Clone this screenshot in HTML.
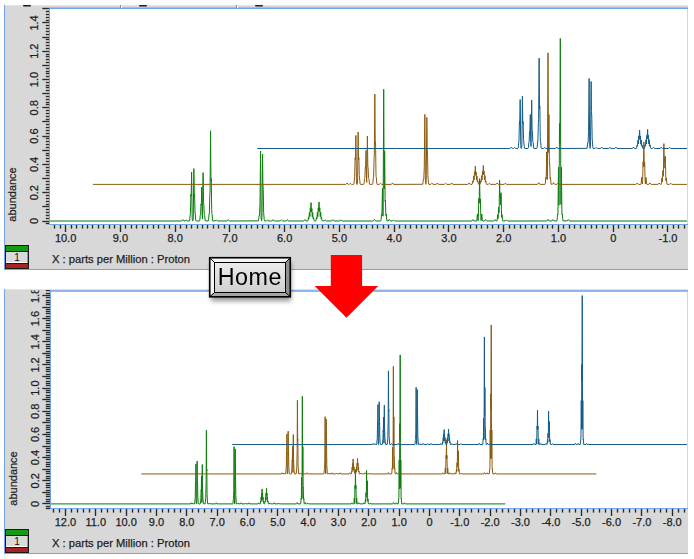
<!DOCTYPE html>
<html><head><meta charset="utf-8"><style>
html,body{margin:0;padding:0;background:#fff;width:694px;height:559px;overflow:hidden;position:relative}
</style></head><body>
<svg width="694" height="559" viewBox="0 0 694 559" style="position:absolute;left:0;top:0">
<defs><filter id="soft" x="-1%" y="-1%" width="102%" height="102%"><feGaussianBlur stdDeviation="0.3 0.15"/></filter></defs>
<clipPath id="ctp"><rect x="4" y="5" width="684" height="265"/></clipPath>
<g clip-path="url(#ctp)">
<rect x="4" y="5" width="684" height="265" fill="#d8d8d8"/>
<rect x="49" y="8" width="639" height="217" fill="#ffffff"/>
<g stroke="#2a2a2a" stroke-width="1.35">
<line x1="45.8" y1="223.5" x2="49" y2="223.5"/>
<line x1="42.3" y1="221.5" x2="49" y2="221.5"/>
<line x1="45.8" y1="218.5" x2="49" y2="218.5"/>
<line x1="45.8" y1="215.5" x2="49" y2="215.5"/>
<line x1="45.8" y1="212.5" x2="49" y2="212.5"/>
<line x1="45.8" y1="209.5" x2="49" y2="209.5"/>
<line x1="42.3" y1="206.5" x2="49" y2="206.5"/>
<line x1="45.8" y1="204.5" x2="49" y2="204.5"/>
<line x1="45.8" y1="201.5" x2="49" y2="201.5"/>
<line x1="45.8" y1="198.5" x2="49" y2="198.5"/>
<line x1="45.8" y1="195.5" x2="49" y2="195.5"/>
<line x1="42.3" y1="192.5" x2="49" y2="192.5"/>
<line x1="45.8" y1="189.5" x2="49" y2="189.5"/>
<line x1="45.8" y1="187.5" x2="49" y2="187.5"/>
<line x1="45.8" y1="184.5" x2="49" y2="184.5"/>
<line x1="45.8" y1="181.5" x2="49" y2="181.5"/>
<line x1="42.3" y1="178.5" x2="49" y2="178.5"/>
<line x1="45.8" y1="175.5" x2="49" y2="175.5"/>
<line x1="45.8" y1="172.5" x2="49" y2="172.5"/>
<line x1="45.8" y1="170.5" x2="49" y2="170.5"/>
<line x1="45.8" y1="167.5" x2="49" y2="167.5"/>
<line x1="42.3" y1="164.5" x2="49" y2="164.5"/>
<line x1="45.8" y1="161.5" x2="49" y2="161.5"/>
<line x1="45.8" y1="158.5" x2="49" y2="158.5"/>
<line x1="45.8" y1="155.5" x2="49" y2="155.5"/>
<line x1="45.8" y1="153.5" x2="49" y2="153.5"/>
<line x1="42.3" y1="150.5" x2="49" y2="150.5"/>
<line x1="45.8" y1="147.5" x2="49" y2="147.5"/>
<line x1="45.8" y1="144.5" x2="49" y2="144.5"/>
<line x1="45.8" y1="141.5" x2="49" y2="141.5"/>
<line x1="45.8" y1="138.5" x2="49" y2="138.5"/>
<line x1="42.3" y1="136.5" x2="49" y2="136.5"/>
<line x1="45.8" y1="133.5" x2="49" y2="133.5"/>
<line x1="45.8" y1="130.5" x2="49" y2="130.5"/>
<line x1="45.8" y1="127.5" x2="49" y2="127.5"/>
<line x1="45.8" y1="124.5" x2="49" y2="124.5"/>
<line x1="42.3" y1="121.5" x2="49" y2="121.5"/>
<line x1="45.8" y1="119.5" x2="49" y2="119.5"/>
<line x1="45.8" y1="116.5" x2="49" y2="116.5"/>
<line x1="45.8" y1="113.5" x2="49" y2="113.5"/>
<line x1="45.8" y1="110.5" x2="49" y2="110.5"/>
<line x1="42.3" y1="107.5" x2="49" y2="107.5"/>
<line x1="45.8" y1="104.5" x2="49" y2="104.5"/>
<line x1="45.8" y1="102.5" x2="49" y2="102.5"/>
<line x1="45.8" y1="99.5" x2="49" y2="99.5"/>
<line x1="45.8" y1="96.5" x2="49" y2="96.5"/>
<line x1="42.3" y1="93.5" x2="49" y2="93.5"/>
<line x1="45.8" y1="90.5" x2="49" y2="90.5"/>
<line x1="45.8" y1="87.5" x2="49" y2="87.5"/>
<line x1="45.8" y1="85.5" x2="49" y2="85.5"/>
<line x1="45.8" y1="82.5" x2="49" y2="82.5"/>
<line x1="42.3" y1="79.5" x2="49" y2="79.5"/>
<line x1="45.8" y1="76.5" x2="49" y2="76.5"/>
<line x1="45.8" y1="73.5" x2="49" y2="73.5"/>
<line x1="45.8" y1="71.5" x2="49" y2="71.5"/>
<line x1="45.8" y1="68.5" x2="49" y2="68.5"/>
<line x1="42.3" y1="65.5" x2="49" y2="65.5"/>
<line x1="45.8" y1="62.5" x2="49" y2="62.5"/>
<line x1="45.8" y1="59.5" x2="49" y2="59.5"/>
<line x1="45.8" y1="56.5" x2="49" y2="56.5"/>
<line x1="45.8" y1="54.5" x2="49" y2="54.5"/>
<line x1="42.3" y1="51.5" x2="49" y2="51.5"/>
<line x1="45.8" y1="48.5" x2="49" y2="48.5"/>
<line x1="45.8" y1="45.5" x2="49" y2="45.5"/>
<line x1="45.8" y1="42.5" x2="49" y2="42.5"/>
<line x1="45.8" y1="39.5" x2="49" y2="39.5"/>
<line x1="42.3" y1="37.5" x2="49" y2="37.5"/>
<line x1="45.8" y1="34.5" x2="49" y2="34.5"/>
<line x1="45.8" y1="31.5" x2="49" y2="31.5"/>
<line x1="45.8" y1="28.5" x2="49" y2="28.5"/>
<line x1="45.8" y1="25.5" x2="49" y2="25.5"/>
<line x1="42.3" y1="22.5" x2="49" y2="22.5"/>
<line x1="45.8" y1="20.5" x2="49" y2="20.5"/>
<line x1="45.8" y1="17.5" x2="49" y2="17.5"/>
<line x1="45.8" y1="14.5" x2="49" y2="14.5"/>
<line x1="45.8" y1="11.5" x2="49" y2="11.5"/>
<line x1="42.3" y1="8.5" x2="49" y2="8.5"/>
<line x1="684.50" y1="225" x2="684.50" y2="228.6"/>
<line x1="678.50" y1="225" x2="678.50" y2="228.6"/>
<line x1="673.50" y1="225" x2="673.50" y2="228.6"/>
<line x1="667.50" y1="225" x2="667.50" y2="232.0"/>
<line x1="662.50" y1="225" x2="662.50" y2="228.6"/>
<line x1="657.50" y1="225" x2="657.50" y2="228.6"/>
<line x1="651.50" y1="225" x2="651.50" y2="228.6"/>
<line x1="646.50" y1="225" x2="646.50" y2="228.6"/>
<line x1="640.50" y1="225" x2="640.50" y2="228.6"/>
<line x1="635.50" y1="225" x2="635.50" y2="228.6"/>
<line x1="629.50" y1="225" x2="629.50" y2="228.6"/>
<line x1="624.50" y1="225" x2="624.50" y2="228.6"/>
<line x1="618.50" y1="225" x2="618.50" y2="228.6"/>
<line x1="613.50" y1="225" x2="613.50" y2="232.0"/>
<line x1="607.50" y1="225" x2="607.50" y2="228.6"/>
<line x1="602.50" y1="225" x2="602.50" y2="228.6"/>
<line x1="596.50" y1="225" x2="596.50" y2="228.6"/>
<line x1="591.50" y1="225" x2="591.50" y2="228.6"/>
<line x1="585.50" y1="225" x2="585.50" y2="228.6"/>
<line x1="580.50" y1="225" x2="580.50" y2="228.6"/>
<line x1="574.50" y1="225" x2="574.50" y2="228.6"/>
<line x1="569.50" y1="225" x2="569.50" y2="228.6"/>
<line x1="563.50" y1="225" x2="563.50" y2="228.6"/>
<line x1="558.50" y1="225" x2="558.50" y2="232.0"/>
<line x1="552.50" y1="225" x2="552.50" y2="228.6"/>
<line x1="547.50" y1="225" x2="547.50" y2="228.6"/>
<line x1="542.50" y1="225" x2="542.50" y2="228.6"/>
<line x1="536.50" y1="225" x2="536.50" y2="228.6"/>
<line x1="531.50" y1="225" x2="531.50" y2="228.6"/>
<line x1="525.50" y1="225" x2="525.50" y2="228.6"/>
<line x1="520.50" y1="225" x2="520.50" y2="228.6"/>
<line x1="514.50" y1="225" x2="514.50" y2="228.6"/>
<line x1="509.50" y1="225" x2="509.50" y2="228.6"/>
<line x1="503.50" y1="225" x2="503.50" y2="232.0"/>
<line x1="498.50" y1="225" x2="498.50" y2="228.6"/>
<line x1="492.50" y1="225" x2="492.50" y2="228.6"/>
<line x1="487.50" y1="225" x2="487.50" y2="228.6"/>
<line x1="481.50" y1="225" x2="481.50" y2="228.6"/>
<line x1="476.50" y1="225" x2="476.50" y2="228.6"/>
<line x1="470.50" y1="225" x2="470.50" y2="228.6"/>
<line x1="465.50" y1="225" x2="465.50" y2="228.6"/>
<line x1="459.50" y1="225" x2="459.50" y2="228.6"/>
<line x1="454.50" y1="225" x2="454.50" y2="228.6"/>
<line x1="448.50" y1="225" x2="448.50" y2="232.0"/>
<line x1="443.50" y1="225" x2="443.50" y2="228.6"/>
<line x1="437.50" y1="225" x2="437.50" y2="228.6"/>
<line x1="432.50" y1="225" x2="432.50" y2="228.6"/>
<line x1="427.50" y1="225" x2="427.50" y2="228.6"/>
<line x1="421.50" y1="225" x2="421.50" y2="228.6"/>
<line x1="416.50" y1="225" x2="416.50" y2="228.6"/>
<line x1="410.50" y1="225" x2="410.50" y2="228.6"/>
<line x1="405.50" y1="225" x2="405.50" y2="228.6"/>
<line x1="399.50" y1="225" x2="399.50" y2="228.6"/>
<line x1="394.50" y1="225" x2="394.50" y2="232.0"/>
<line x1="388.50" y1="225" x2="388.50" y2="228.6"/>
<line x1="383.50" y1="225" x2="383.50" y2="228.6"/>
<line x1="377.50" y1="225" x2="377.50" y2="228.6"/>
<line x1="372.50" y1="225" x2="372.50" y2="228.6"/>
<line x1="366.50" y1="225" x2="366.50" y2="228.6"/>
<line x1="361.50" y1="225" x2="361.50" y2="228.6"/>
<line x1="355.50" y1="225" x2="355.50" y2="228.6"/>
<line x1="350.50" y1="225" x2="350.50" y2="228.6"/>
<line x1="344.50" y1="225" x2="344.50" y2="228.6"/>
<line x1="339.50" y1="225" x2="339.50" y2="232.0"/>
<line x1="333.50" y1="225" x2="333.50" y2="228.6"/>
<line x1="328.50" y1="225" x2="328.50" y2="228.6"/>
<line x1="322.50" y1="225" x2="322.50" y2="228.6"/>
<line x1="317.50" y1="225" x2="317.50" y2="228.6"/>
<line x1="312.50" y1="225" x2="312.50" y2="228.6"/>
<line x1="306.50" y1="225" x2="306.50" y2="228.6"/>
<line x1="301.50" y1="225" x2="301.50" y2="228.6"/>
<line x1="295.50" y1="225" x2="295.50" y2="228.6"/>
<line x1="290.50" y1="225" x2="290.50" y2="228.6"/>
<line x1="284.50" y1="225" x2="284.50" y2="232.0"/>
<line x1="279.50" y1="225" x2="279.50" y2="228.6"/>
<line x1="273.50" y1="225" x2="273.50" y2="228.6"/>
<line x1="268.50" y1="225" x2="268.50" y2="228.6"/>
<line x1="262.50" y1="225" x2="262.50" y2="228.6"/>
<line x1="257.50" y1="225" x2="257.50" y2="228.6"/>
<line x1="251.50" y1="225" x2="251.50" y2="228.6"/>
<line x1="246.50" y1="225" x2="246.50" y2="228.6"/>
<line x1="240.50" y1="225" x2="240.50" y2="228.6"/>
<line x1="235.50" y1="225" x2="235.50" y2="228.6"/>
<line x1="229.50" y1="225" x2="229.50" y2="232.0"/>
<line x1="224.50" y1="225" x2="224.50" y2="228.6"/>
<line x1="218.50" y1="225" x2="218.50" y2="228.6"/>
<line x1="213.50" y1="225" x2="213.50" y2="228.6"/>
<line x1="207.50" y1="225" x2="207.50" y2="228.6"/>
<line x1="202.50" y1="225" x2="202.50" y2="228.6"/>
<line x1="197.50" y1="225" x2="197.50" y2="228.6"/>
<line x1="191.50" y1="225" x2="191.50" y2="228.6"/>
<line x1="186.50" y1="225" x2="186.50" y2="228.6"/>
<line x1="180.50" y1="225" x2="180.50" y2="228.6"/>
<line x1="175.50" y1="225" x2="175.50" y2="232.0"/>
<line x1="169.50" y1="225" x2="169.50" y2="228.6"/>
<line x1="164.50" y1="225" x2="164.50" y2="228.6"/>
<line x1="158.50" y1="225" x2="158.50" y2="228.6"/>
<line x1="153.50" y1="225" x2="153.50" y2="228.6"/>
<line x1="147.50" y1="225" x2="147.50" y2="228.6"/>
<line x1="142.50" y1="225" x2="142.50" y2="228.6"/>
<line x1="136.50" y1="225" x2="136.50" y2="228.6"/>
<line x1="131.50" y1="225" x2="131.50" y2="228.6"/>
<line x1="125.50" y1="225" x2="125.50" y2="228.6"/>
<line x1="120.50" y1="225" x2="120.50" y2="232.0"/>
<line x1="114.50" y1="225" x2="114.50" y2="228.6"/>
<line x1="109.50" y1="225" x2="109.50" y2="228.6"/>
<line x1="103.50" y1="225" x2="103.50" y2="228.6"/>
<line x1="98.50" y1="225" x2="98.50" y2="228.6"/>
<line x1="92.50" y1="225" x2="92.50" y2="228.6"/>
<line x1="87.50" y1="225" x2="87.50" y2="228.6"/>
<line x1="82.50" y1="225" x2="82.50" y2="228.6"/>
<line x1="76.50" y1="225" x2="76.50" y2="228.6"/>
<line x1="71.50" y1="225" x2="71.50" y2="228.6"/>
<line x1="65.50" y1="225" x2="65.50" y2="232.0"/>
<line x1="60.50" y1="225" x2="60.50" y2="228.6"/>
<line x1="54.50" y1="225" x2="54.50" y2="228.6"/>
</g>
<clipPath id="ctl"><rect x="4" y="7.5" width="46" height="226"/></clipPath>
<g font-family='"Liberation Sans", sans-serif' font-size="11" fill="#1e1e1e" stroke="#1e1e1e" stroke-width="0.25" text-anchor="middle">
<g clip-path="url(#ctl)">
<text x="38.2" y="221.00" transform="rotate(-90 38.2 221.00)">0</text>
<text x="38.2" y="192.70" transform="rotate(-90 38.2 192.70)">0.2</text>
<text x="38.2" y="164.40" transform="rotate(-90 38.2 164.40)">0.4</text>
<text x="38.2" y="136.10" transform="rotate(-90 38.2 136.10)">0.6</text>
<text x="38.2" y="107.80" transform="rotate(-90 38.2 107.80)">0.8</text>
<text x="38.2" y="79.50" transform="rotate(-90 38.2 79.50)">1.0</text>
<text x="38.2" y="51.20" transform="rotate(-90 38.2 51.20)">1.2</text>
<text x="38.2" y="22.90" transform="rotate(-90 38.2 22.90)">1.4</text>
</g>
<text x="667.96" y="241.6">-1.0</text>
<text x="613.20" y="241.6">0</text>
<text x="558.44" y="241.6">1.0</text>
<text x="503.68" y="241.6">2.0</text>
<text x="448.92" y="241.6">3.0</text>
<text x="394.16" y="241.6">4.0</text>
<text x="339.40" y="241.6">5.0</text>
<text x="284.64" y="241.6">6.0</text>
<text x="229.88" y="241.6">7.0</text>
<text x="175.12" y="241.6">8.0</text>
<text x="120.36" y="241.6">9.0</text>
<text x="65.60" y="241.6">10.0</text>
</g>
<clipPath id="ct"><rect x="50" y="9" width="637" height="215"/></clipPath>
<g clip-path="url(#ct)"><g filter="url(#soft)" fill="none" stroke-width="1" stroke-linejoin="round">
<path stroke="#0a7d0a" d="M49.50 221.00 L181.15 221.00 L181.90 220.82 L182.80 219.59 L183.55 220.69 L184.00 220.97 L185.10 220.90 L186.05 219.87 L187.15 220.95 L189.35 220.98 L189.70 219.99 L190.45 212.10 L190.85 194.70 L190.95 194.20 L191.20 196.38 L191.60 172.03 L192.15 216.88 L192.35 220.51 L192.50 220.94 L192.90 220.97 L193.20 219.36 L193.35 214.25 L193.85 168.64 L194.25 195.49 L194.35 196.39 L194.50 194.16 L194.60 194.71 L195.00 212.10 L195.85 220.57 L196.20 220.99 L199.40 220.99 L199.80 220.28 L200.25 214.94 L200.60 214.16 L201.00 204.17 L201.30 205.15 L201.75 187.02 L202.20 215.31 L202.45 219.06 L203.10 172.62 L203.55 202.67 L203.85 204.40 L204.25 214.35 L204.60 215.05 L205.20 220.85 L208.30 220.95 L208.60 219.90 L209.00 214.33 L209.10 213.89 L209.30 214.18 L209.35 213.79 L209.80 194.88 L210.05 192.01 L210.55 130.72 L210.95 178.70 L211.05 181.26 L211.20 178.47 L211.30 179.52 L211.70 209.79 L211.85 213.43 L212.10 214.40 L212.50 219.92 L212.80 220.95 L215.10 220.95 L216.20 219.87 L217.00 220.80 L217.45 220.98 L226.90 220.99 L227.40 220.77 L228.25 219.59 L229.10 220.80 L229.70 220.99 L258.50 220.87 L259.15 215.42 L259.40 215.68 L259.50 215.19 L260.00 204.07 L260.55 150.98 L261.05 212.42 L261.20 218.95 L261.50 220.95 L261.80 220.04 L262.00 213.66 L262.55 154.00 L262.90 183.99 L263.25 189.46 L263.65 212.43 L264.20 219.45 L264.60 220.96 L266.60 220.94 L267.65 219.87 L268.80 220.96 L271.90 220.97 L272.35 220.72 L273.15 219.59 L273.95 220.74 L274.45 220.98 L280.15 220.97 L281.35 219.87 L282.50 220.96 L285.95 220.99 L286.55 220.76 L287.40 219.59 L288.20 220.76 L288.75 220.99 L303.40 221.00 L304.05 220.79 L304.90 219.59 L305.95 220.92 L307.75 220.97 L308.05 220.41 L308.50 217.47 L308.85 218.84 L308.95 218.56 L309.40 212.51 L309.85 216.51 L310.25 208.32 L310.65 211.83 L311.05 202.64 L311.40 211.60 L311.50 211.98 L311.85 208.56 L312.25 216.73 L312.70 212.55 L313.15 218.73 L313.55 217.46 L314.15 220.81 L314.45 221.00 L315.75 220.97 L316.05 220.36 L316.50 217.33 L316.90 218.70 L317.35 212.28 L317.80 216.61 L318.25 207.81 L318.65 211.42 L319.05 201.96 L319.40 211.31 L319.80 207.78 L320.25 216.58 L320.70 212.24 L321.15 218.67 L321.60 217.41 L322.00 220.32 L322.35 220.98 L324.15 220.92 L325.15 219.87 L326.35 220.97 L331.55 220.98 L332.00 220.76 L332.85 219.59 L333.65 220.76 L334.30 220.99 L339.85 220.97 L341.05 219.87 L341.90 220.83 L342.50 221.00 L372.90 221.00 L373.60 220.74 L374.45 219.30 L375.25 220.68 L375.65 220.96 L380.75 220.97 L381.10 219.82 L381.50 214.20 L381.60 213.96 L381.85 215.57 L381.95 214.47 L382.45 188.48 L382.90 214.58 L383.00 216.20 L383.10 213.35 L383.70 89.41 L384.20 189.06 L384.65 151.13 L385.10 199.88 L385.20 201.59 L385.35 200.29 L385.45 201.02 L385.85 214.99 L385.95 215.52 L386.25 214.00 L386.70 219.95 L387.00 220.95 L388.25 220.86 L389.25 219.30 L390.10 220.76 L390.80 221.00 L392.60 220.92 L393.60 219.87 L394.50 220.85 L395.20 221.00 L471.45 221.00 L472.15 220.80 L473.00 219.59 L474.10 220.93 L476.45 221.00 L476.75 220.77 L476.90 220.06 L477.40 213.93 L478.05 220.62 L478.35 217.35 L478.80 198.50 L479.10 203.32 L479.20 201.88 L479.60 178.62 L480.00 202.73 L480.40 198.93 L480.80 216.72 L481.10 220.61 L481.75 213.96 L482.25 219.89 L482.60 220.97 L484.55 220.92 L485.60 219.59 L486.40 220.72 L486.90 220.98 L493.70 220.97 L494.15 220.70 L494.90 219.59 L495.85 220.85 L496.85 220.97 L497.20 219.86 L497.65 214.64 L498.10 218.49 L498.60 207.07 L498.95 212.88 L499.10 212.07 L499.60 180.21 L499.95 198.10 L500.30 194.22 L500.65 204.86 L501.05 192.70 L501.60 217.32 L502.05 214.64 L502.50 219.91 L502.80 220.95 L505.35 220.94 L506.40 219.87 L507.25 220.81 L507.90 221.00 L546.55 220.99 L547.20 220.72 L548.05 219.30 L548.85 220.70 L549.30 220.97 L551.90 220.93 L552.95 219.59 L554.05 220.93 L556.80 220.97 L557.15 219.86 L557.55 214.25 L557.65 213.93 L557.85 214.76 L557.95 213.51 L558.50 167.24 L558.90 203.58 L559.00 205.20 L559.05 202.71 L559.50 123.46 L559.80 143.36 L559.90 140.28 L560.30 38.45 L560.85 201.12 L560.90 204.42 L561.00 203.04 L561.40 167.23 L561.90 212.09 L562.00 214.53 L562.25 213.92 L562.35 214.32 L562.95 220.84 L567.10 220.97 L568.30 219.59 L569.20 220.83 L569.95 221.00 L687.00 221.00"/>
<path stroke="#8a5a12" d="M92.98 184.39 L345.33 184.39 L346.18 184.21 L347.08 182.98 L347.83 184.08 L348.28 184.36 L349.38 184.30 L350.33 183.26 L351.43 184.34 L353.58 184.38 L353.98 183.38 L354.68 176.35 L355.13 158.09 L355.23 157.59 L355.48 159.77 L355.88 135.42 L356.43 180.27 L356.63 183.90 L356.78 184.33 L357.13 184.38 L357.43 183.45 L357.63 177.65 L358.13 132.03 L358.53 158.88 L358.63 159.79 L358.78 157.55 L358.88 158.10 L359.28 175.49 L360.13 183.97 L360.48 184.39 L363.68 184.39 L364.08 183.67 L364.53 178.33 L364.88 177.55 L365.28 167.57 L365.58 168.54 L366.03 150.41 L366.48 178.70 L366.73 182.45 L367.38 136.01 L367.83 166.06 L368.13 167.79 L368.53 177.75 L368.88 178.44 L369.48 184.25 L372.53 184.37 L372.88 183.29 L373.33 177.39 L373.53 177.63 L373.63 177.18 L374.08 158.28 L374.33 155.40 L374.83 94.12 L375.23 142.09 L375.33 144.65 L375.48 141.87 L375.58 142.92 L375.98 173.18 L376.13 176.83 L376.38 177.80 L376.78 183.31 L377.08 184.34 L379.38 184.34 L380.48 183.26 L381.28 184.19 L381.73 184.38 L391.18 184.38 L391.68 184.17 L392.53 182.98 L393.38 184.19 L393.98 184.39 L422.78 184.27 L423.43 178.82 L423.68 179.07 L423.78 178.59 L424.28 167.47 L424.83 114.38 L425.33 175.82 L425.48 182.34 L425.78 184.34 L426.08 183.43 L426.28 177.05 L426.83 117.39 L427.18 147.38 L427.53 152.86 L427.93 175.82 L428.48 182.84 L428.88 184.36 L430.88 184.33 L431.93 183.26 L433.08 184.35 L436.18 184.37 L436.63 184.12 L437.43 182.98 L438.23 184.14 L438.73 184.38 L444.43 184.37 L445.63 183.26 L446.78 184.36 L450.23 184.39 L450.83 184.16 L451.68 182.98 L452.48 184.15 L453.03 184.38 L467.68 184.39 L468.33 184.18 L469.18 182.98 L470.23 184.31 L472.03 184.37 L472.33 183.80 L472.78 180.87 L473.13 182.24 L473.23 181.95 L473.68 175.91 L474.13 179.91 L474.53 171.72 L474.93 175.23 L475.33 166.03 L475.68 175.00 L475.78 175.38 L476.13 171.96 L476.53 180.12 L476.98 175.94 L477.43 182.13 L477.83 180.86 L478.43 184.21 L478.73 184.39 L480.03 184.36 L480.33 183.75 L480.78 180.73 L481.18 182.09 L481.63 175.68 L482.08 180.00 L482.53 171.21 L482.93 174.82 L483.33 165.35 L483.68 174.71 L484.08 171.18 L484.53 179.98 L484.98 175.64 L485.43 182.06 L485.88 180.81 L486.28 183.71 L486.63 184.38 L488.43 184.32 L489.43 183.26 L490.63 184.37 L495.83 184.37 L496.28 184.16 L497.13 182.98 L497.93 184.15 L498.58 184.39 L504.13 184.37 L505.33 183.26 L506.18 184.23 L506.78 184.39 L537.18 184.39 L537.88 184.13 L538.73 182.70 L539.53 184.08 L539.93 184.35 L544.98 184.38 L545.38 183.21 L545.78 177.60 L545.88 177.35 L546.13 178.97 L546.23 177.87 L546.73 151.87 L547.18 177.97 L547.28 179.60 L547.38 176.75 L547.98 52.80 L548.48 152.45 L548.93 114.53 L549.38 163.27 L549.48 164.98 L549.63 163.69 L549.73 164.41 L550.13 178.38 L550.23 178.91 L550.53 177.40 L550.93 182.87 L551.23 184.31 L552.53 184.26 L553.53 182.70 L554.38 184.16 L555.08 184.39 L556.88 184.32 L557.88 183.26 L558.78 184.25 L559.48 184.39 L635.73 184.39 L636.43 184.19 L637.28 182.98 L638.38 184.33 L640.73 184.39 L641.03 184.16 L641.18 183.45 L641.68 177.32 L642.33 184.02 L642.63 180.74 L643.08 161.89 L643.38 166.71 L643.48 165.27 L643.88 142.01 L644.28 166.13 L644.68 162.32 L645.08 180.11 L645.38 184.01 L646.03 177.36 L646.53 183.28 L646.88 184.37 L648.83 184.32 L649.88 182.98 L650.68 184.12 L651.18 184.38 L657.98 184.36 L658.43 184.09 L659.18 182.98 L660.13 184.25 L661.13 184.36 L661.48 183.25 L661.93 178.03 L662.38 181.88 L662.88 170.46 L663.23 176.27 L663.38 175.47 L663.88 143.60 L664.23 161.49 L664.58 157.61 L664.93 168.26 L665.33 156.09 L665.88 180.72 L666.33 178.04 L666.98 184.22 L667.28 184.39 L669.58 184.35 L670.68 183.26 L671.53 184.21 L672.03 184.38 L686.98 184.39"/>
<path stroke="#135a88" d="M257.26 148.50 L509.61 148.49 L510.46 148.31 L511.36 147.08 L512.11 148.19 L512.56 148.46 L513.66 148.40 L514.61 147.36 L515.71 148.44 L517.86 148.48 L518.26 147.49 L518.96 140.45 L519.41 122.20 L519.51 121.70 L519.76 123.87 L520.16 99.53 L520.71 144.37 L520.91 148.01 L521.06 148.43 L521.41 148.48 L521.71 147.55 L521.91 141.75 L522.41 96.13 L522.81 122.98 L522.91 123.89 L523.06 121.65 L523.16 122.20 L523.56 139.59 L524.41 148.07 L524.76 148.49 L527.96 148.49 L528.36 147.77 L528.81 142.43 L529.16 141.65 L529.56 131.67 L529.86 132.64 L530.31 114.52 L530.76 142.80 L531.01 146.55 L531.66 100.11 L532.11 130.16 L532.41 131.90 L532.81 141.85 L533.16 142.55 L533.76 148.35 L536.81 148.47 L537.16 147.39 L537.61 141.49 L537.81 141.73 L537.91 141.28 L538.36 122.38 L538.61 119.50 L539.11 58.22 L539.51 106.19 L539.61 108.75 L539.76 105.97 L539.86 107.02 L540.26 137.29 L540.41 140.93 L540.66 141.90 L541.06 147.42 L541.36 148.45 L543.66 148.44 L544.76 147.36 L545.56 148.29 L546.01 148.48 L555.46 148.48 L555.96 148.27 L556.81 147.08 L557.66 148.29 L558.26 148.49 L587.06 148.37 L587.71 142.92 L587.96 143.17 L588.06 142.69 L588.56 131.57 L589.11 78.48 L589.61 139.92 L589.76 146.45 L590.06 148.44 L590.36 147.53 L590.56 141.15 L591.11 81.50 L591.46 111.48 L591.81 116.96 L592.16 138.26 L592.71 146.43 L593.11 148.43 L595.16 148.44 L596.21 147.36 L597.36 148.46 L600.46 148.47 L600.91 148.22 L601.71 147.08 L602.51 148.24 L603.01 148.48 L608.71 148.47 L609.91 147.36 L611.06 148.46 L614.51 148.49 L615.11 148.26 L615.96 147.08 L616.76 148.25 L617.31 148.48 L631.96 148.49 L632.61 148.28 L633.46 147.08 L634.51 148.41 L636.31 148.47 L636.61 147.90 L637.06 144.97 L637.41 146.34 L637.51 146.05 L637.96 140.01 L638.41 144.01 L638.81 135.82 L639.21 139.33 L639.61 130.13 L639.96 139.10 L640.06 139.48 L640.41 136.06 L640.81 144.22 L641.26 140.05 L641.71 146.23 L642.11 144.96 L642.71 148.31 L643.01 148.49 L644.31 148.46 L644.61 147.86 L645.06 144.83 L645.46 146.20 L645.91 139.78 L646.36 144.10 L646.81 135.31 L647.21 138.92 L647.61 129.45 L647.96 138.81 L648.36 135.28 L648.81 144.08 L649.26 139.74 L649.71 146.16 L650.16 144.91 L650.56 147.81 L650.86 148.46 L652.71 148.42 L653.71 147.36 L654.91 148.47 L660.11 148.48 L660.56 148.26 L661.41 147.08 L662.21 148.25 L662.81 148.49 L668.41 148.47 L669.61 147.36 L670.41 148.29 L670.96 148.49 L686.96 148.50"/>
</g></g>
<line x1="49" y1="8.20" x2="688" y2="8.20" stroke="#72a4ec" stroke-width="1.35"/>
<line x1="49" y1="224.5" x2="688" y2="224.5" stroke="#72a4ec"/>
<line x1="49.5" y1="8" x2="49.5" y2="225" stroke="#72a4ec"/>
<line x1="687.5" y1="9" x2="687.5" y2="224" stroke="#c4d9fb"/>
<line x1="4.5" y1="5" x2="4.5" y2="270" stroke="#72a4ec"/>
<line x1="4" y1="269.5" x2="688" y2="269.5" stroke="#72a4ec"/>
<text x="16.3" y="221.7" transform="rotate(-90 16.3 221.7)" font-family='"Liberation Sans", sans-serif' font-size="11" fill="#1e1e1e" stroke="#1e1e1e" stroke-width="0.2">abundance</text>
<rect x="5" y="245" width="24" height="24" fill="#1a1a1a"/>
<rect x="6" y="246" width="22" height="5" fill="#159a15"/>
<rect x="6" y="252" width="22" height="11" fill="#dadada"/>
<rect x="6" y="262" width="22" height="1" fill="#ffffff"/>
<rect x="27" y="252" width="1" height="11" fill="#9a9a9a"/>
<rect x="6" y="264" width="22" height="4" fill="#a82222"/>
<text x="17" y="261.3" font-family='"Liberation Sans", sans-serif' font-size="10" fill="#111" text-anchor="middle">1</text>
<text x="52" y="263.3" font-family='"Liberation Sans", sans-serif' font-size="11.2" fill="#1e1e1e" stroke="#1e1e1e" stroke-width="0.25">X : parts per Million : Proton</text>
</g>
<clipPath id="cbp"><rect x="4" y="289" width="684" height="265"/></clipPath>
<g clip-path="url(#cbp)">
<rect x="4" y="289" width="684" height="265" fill="#d8d8d8"/>
<rect x="50" y="291" width="638" height="218" fill="#ffffff"/>
<g stroke="#2a2a2a" stroke-width="1.35">
<line x1="45.8" y1="508.5" x2="50" y2="508.5"/>
<line x1="45.8" y1="506.5" x2="50" y2="506.5"/>
<line x1="42.3" y1="503.5" x2="50" y2="503.5"/>
<line x1="45.8" y1="501.5" x2="50" y2="501.5"/>
<line x1="45.8" y1="499.5" x2="50" y2="499.5"/>
<line x1="45.8" y1="496.5" x2="50" y2="496.5"/>
<line x1="45.8" y1="494.5" x2="50" y2="494.5"/>
<line x1="42.3" y1="492.5" x2="50" y2="492.5"/>
<line x1="45.8" y1="490.5" x2="50" y2="490.5"/>
<line x1="45.8" y1="487.5" x2="50" y2="487.5"/>
<line x1="45.8" y1="485.5" x2="50" y2="485.5"/>
<line x1="45.8" y1="483.5" x2="50" y2="483.5"/>
<line x1="42.3" y1="480.5" x2="50" y2="480.5"/>
<line x1="45.8" y1="478.5" x2="50" y2="478.5"/>
<line x1="45.8" y1="476.5" x2="50" y2="476.5"/>
<line x1="45.8" y1="473.5" x2="50" y2="473.5"/>
<line x1="45.8" y1="471.5" x2="50" y2="471.5"/>
<line x1="42.3" y1="469.5" x2="50" y2="469.5"/>
<line x1="45.8" y1="466.5" x2="50" y2="466.5"/>
<line x1="45.8" y1="464.5" x2="50" y2="464.5"/>
<line x1="45.8" y1="462.5" x2="50" y2="462.5"/>
<line x1="45.8" y1="459.5" x2="50" y2="459.5"/>
<line x1="42.3" y1="457.5" x2="50" y2="457.5"/>
<line x1="45.8" y1="455.5" x2="50" y2="455.5"/>
<line x1="45.8" y1="452.5" x2="50" y2="452.5"/>
<line x1="45.8" y1="450.5" x2="50" y2="450.5"/>
<line x1="45.8" y1="448.5" x2="50" y2="448.5"/>
<line x1="42.3" y1="446.5" x2="50" y2="446.5"/>
<line x1="45.8" y1="443.5" x2="50" y2="443.5"/>
<line x1="45.8" y1="441.5" x2="50" y2="441.5"/>
<line x1="45.8" y1="439.5" x2="50" y2="439.5"/>
<line x1="45.8" y1="436.5" x2="50" y2="436.5"/>
<line x1="42.3" y1="434.5" x2="50" y2="434.5"/>
<line x1="45.8" y1="432.5" x2="50" y2="432.5"/>
<line x1="45.8" y1="429.5" x2="50" y2="429.5"/>
<line x1="45.8" y1="427.5" x2="50" y2="427.5"/>
<line x1="45.8" y1="425.5" x2="50" y2="425.5"/>
<line x1="42.3" y1="422.5" x2="50" y2="422.5"/>
<line x1="45.8" y1="420.5" x2="50" y2="420.5"/>
<line x1="45.8" y1="418.5" x2="50" y2="418.5"/>
<line x1="45.8" y1="415.5" x2="50" y2="415.5"/>
<line x1="45.8" y1="413.5" x2="50" y2="413.5"/>
<line x1="42.3" y1="411.5" x2="50" y2="411.5"/>
<line x1="45.8" y1="408.5" x2="50" y2="408.5"/>
<line x1="45.8" y1="406.5" x2="50" y2="406.5"/>
<line x1="45.8" y1="404.5" x2="50" y2="404.5"/>
<line x1="45.8" y1="401.5" x2="50" y2="401.5"/>
<line x1="42.3" y1="399.5" x2="50" y2="399.5"/>
<line x1="45.8" y1="397.5" x2="50" y2="397.5"/>
<line x1="45.8" y1="395.5" x2="50" y2="395.5"/>
<line x1="45.8" y1="392.5" x2="50" y2="392.5"/>
<line x1="45.8" y1="390.5" x2="50" y2="390.5"/>
<line x1="42.3" y1="388.5" x2="50" y2="388.5"/>
<line x1="45.8" y1="385.5" x2="50" y2="385.5"/>
<line x1="45.8" y1="383.5" x2="50" y2="383.5"/>
<line x1="45.8" y1="381.5" x2="50" y2="381.5"/>
<line x1="45.8" y1="378.5" x2="50" y2="378.5"/>
<line x1="42.3" y1="376.5" x2="50" y2="376.5"/>
<line x1="45.8" y1="374.5" x2="50" y2="374.5"/>
<line x1="45.8" y1="371.5" x2="50" y2="371.5"/>
<line x1="45.8" y1="369.5" x2="50" y2="369.5"/>
<line x1="45.8" y1="367.5" x2="50" y2="367.5"/>
<line x1="42.3" y1="364.5" x2="50" y2="364.5"/>
<line x1="45.8" y1="362.5" x2="50" y2="362.5"/>
<line x1="45.8" y1="360.5" x2="50" y2="360.5"/>
<line x1="45.8" y1="357.5" x2="50" y2="357.5"/>
<line x1="45.8" y1="355.5" x2="50" y2="355.5"/>
<line x1="42.3" y1="353.5" x2="50" y2="353.5"/>
<line x1="45.8" y1="351.5" x2="50" y2="351.5"/>
<line x1="45.8" y1="348.5" x2="50" y2="348.5"/>
<line x1="45.8" y1="346.5" x2="50" y2="346.5"/>
<line x1="45.8" y1="344.5" x2="50" y2="344.5"/>
<line x1="42.3" y1="341.5" x2="50" y2="341.5"/>
<line x1="45.8" y1="339.5" x2="50" y2="339.5"/>
<line x1="45.8" y1="337.5" x2="50" y2="337.5"/>
<line x1="45.8" y1="334.5" x2="50" y2="334.5"/>
<line x1="45.8" y1="332.5" x2="50" y2="332.5"/>
<line x1="42.3" y1="330.5" x2="50" y2="330.5"/>
<line x1="45.8" y1="327.5" x2="50" y2="327.5"/>
<line x1="45.8" y1="325.5" x2="50" y2="325.5"/>
<line x1="45.8" y1="323.5" x2="50" y2="323.5"/>
<line x1="45.8" y1="320.5" x2="50" y2="320.5"/>
<line x1="42.3" y1="318.5" x2="50" y2="318.5"/>
<line x1="45.8" y1="316.5" x2="50" y2="316.5"/>
<line x1="45.8" y1="313.5" x2="50" y2="313.5"/>
<line x1="45.8" y1="311.5" x2="50" y2="311.5"/>
<line x1="45.8" y1="309.5" x2="50" y2="309.5"/>
<line x1="42.3" y1="307.5" x2="50" y2="307.5"/>
<line x1="45.8" y1="304.5" x2="50" y2="304.5"/>
<line x1="45.8" y1="302.5" x2="50" y2="302.5"/>
<line x1="45.8" y1="300.5" x2="50" y2="300.5"/>
<line x1="45.8" y1="297.5" x2="50" y2="297.5"/>
<line x1="42.3" y1="295.5" x2="50" y2="295.5"/>
<line x1="45.8" y1="293.5" x2="50" y2="293.5"/>
<line x1="45.8" y1="290.5" x2="50" y2="290.5"/>
<line x1="684.50" y1="509" x2="684.50" y2="512.6"/>
<line x1="678.50" y1="509" x2="678.50" y2="512.6"/>
<line x1="672.50" y1="509" x2="672.50" y2="516.0"/>
<line x1="666.50" y1="509" x2="666.50" y2="512.6"/>
<line x1="660.50" y1="509" x2="660.50" y2="512.6"/>
<line x1="654.50" y1="509" x2="654.50" y2="512.6"/>
<line x1="647.50" y1="509" x2="647.50" y2="512.6"/>
<line x1="641.50" y1="509" x2="641.50" y2="516.0"/>
<line x1="635.50" y1="509" x2="635.50" y2="512.6"/>
<line x1="629.50" y1="509" x2="629.50" y2="512.6"/>
<line x1="623.50" y1="509" x2="623.50" y2="512.6"/>
<line x1="617.50" y1="509" x2="617.50" y2="512.6"/>
<line x1="611.50" y1="509" x2="611.50" y2="516.0"/>
<line x1="605.50" y1="509" x2="605.50" y2="512.6"/>
<line x1="599.50" y1="509" x2="599.50" y2="512.6"/>
<line x1="593.50" y1="509" x2="593.50" y2="512.6"/>
<line x1="587.50" y1="509" x2="587.50" y2="512.6"/>
<line x1="581.50" y1="509" x2="581.50" y2="516.0"/>
<line x1="575.50" y1="509" x2="575.50" y2="512.6"/>
<line x1="569.50" y1="509" x2="569.50" y2="512.6"/>
<line x1="562.50" y1="509" x2="562.50" y2="512.6"/>
<line x1="556.50" y1="509" x2="556.50" y2="512.6"/>
<line x1="550.50" y1="509" x2="550.50" y2="516.0"/>
<line x1="544.50" y1="509" x2="544.50" y2="512.6"/>
<line x1="538.50" y1="509" x2="538.50" y2="512.6"/>
<line x1="532.50" y1="509" x2="532.50" y2="512.6"/>
<line x1="526.50" y1="509" x2="526.50" y2="512.6"/>
<line x1="520.50" y1="509" x2="520.50" y2="516.0"/>
<line x1="514.50" y1="509" x2="514.50" y2="512.6"/>
<line x1="508.50" y1="509" x2="508.50" y2="512.6"/>
<line x1="502.50" y1="509" x2="502.50" y2="512.6"/>
<line x1="496.50" y1="509" x2="496.50" y2="512.6"/>
<line x1="490.50" y1="509" x2="490.50" y2="516.0"/>
<line x1="484.50" y1="509" x2="484.50" y2="512.6"/>
<line x1="478.50" y1="509" x2="478.50" y2="512.6"/>
<line x1="471.50" y1="509" x2="471.50" y2="512.6"/>
<line x1="465.50" y1="509" x2="465.50" y2="512.6"/>
<line x1="459.50" y1="509" x2="459.50" y2="516.0"/>
<line x1="453.50" y1="509" x2="453.50" y2="512.6"/>
<line x1="447.50" y1="509" x2="447.50" y2="512.6"/>
<line x1="441.50" y1="509" x2="441.50" y2="512.6"/>
<line x1="435.50" y1="509" x2="435.50" y2="512.6"/>
<line x1="429.50" y1="509" x2="429.50" y2="516.0"/>
<line x1="423.50" y1="509" x2="423.50" y2="512.6"/>
<line x1="417.50" y1="509" x2="417.50" y2="512.6"/>
<line x1="411.50" y1="509" x2="411.50" y2="512.6"/>
<line x1="405.50" y1="509" x2="405.50" y2="512.6"/>
<line x1="399.50" y1="509" x2="399.50" y2="516.0"/>
<line x1="393.50" y1="509" x2="393.50" y2="512.6"/>
<line x1="387.50" y1="509" x2="387.50" y2="512.6"/>
<line x1="380.50" y1="509" x2="380.50" y2="512.6"/>
<line x1="374.50" y1="509" x2="374.50" y2="512.6"/>
<line x1="368.50" y1="509" x2="368.50" y2="516.0"/>
<line x1="362.50" y1="509" x2="362.50" y2="512.6"/>
<line x1="356.50" y1="509" x2="356.50" y2="512.6"/>
<line x1="350.50" y1="509" x2="350.50" y2="512.6"/>
<line x1="344.50" y1="509" x2="344.50" y2="512.6"/>
<line x1="338.50" y1="509" x2="338.50" y2="516.0"/>
<line x1="332.50" y1="509" x2="332.50" y2="512.6"/>
<line x1="326.50" y1="509" x2="326.50" y2="512.6"/>
<line x1="320.50" y1="509" x2="320.50" y2="512.6"/>
<line x1="314.50" y1="509" x2="314.50" y2="512.6"/>
<line x1="308.50" y1="509" x2="308.50" y2="516.0"/>
<line x1="302.50" y1="509" x2="302.50" y2="512.6"/>
<line x1="296.50" y1="509" x2="296.50" y2="512.6"/>
<line x1="289.50" y1="509" x2="289.50" y2="512.6"/>
<line x1="283.50" y1="509" x2="283.50" y2="512.6"/>
<line x1="277.50" y1="509" x2="277.50" y2="516.0"/>
<line x1="271.50" y1="509" x2="271.50" y2="512.6"/>
<line x1="265.50" y1="509" x2="265.50" y2="512.6"/>
<line x1="259.50" y1="509" x2="259.50" y2="512.6"/>
<line x1="253.50" y1="509" x2="253.50" y2="512.6"/>
<line x1="247.50" y1="509" x2="247.50" y2="516.0"/>
<line x1="241.50" y1="509" x2="241.50" y2="512.6"/>
<line x1="235.50" y1="509" x2="235.50" y2="512.6"/>
<line x1="229.50" y1="509" x2="229.50" y2="512.6"/>
<line x1="223.50" y1="509" x2="223.50" y2="512.6"/>
<line x1="217.50" y1="509" x2="217.50" y2="516.0"/>
<line x1="211.50" y1="509" x2="211.50" y2="512.6"/>
<line x1="204.50" y1="509" x2="204.50" y2="512.6"/>
<line x1="198.50" y1="509" x2="198.50" y2="512.6"/>
<line x1="192.50" y1="509" x2="192.50" y2="512.6"/>
<line x1="186.50" y1="509" x2="186.50" y2="516.0"/>
<line x1="180.50" y1="509" x2="180.50" y2="512.6"/>
<line x1="174.50" y1="509" x2="174.50" y2="512.6"/>
<line x1="168.50" y1="509" x2="168.50" y2="512.6"/>
<line x1="162.50" y1="509" x2="162.50" y2="512.6"/>
<line x1="156.50" y1="509" x2="156.50" y2="516.0"/>
<line x1="150.50" y1="509" x2="150.50" y2="512.6"/>
<line x1="144.50" y1="509" x2="144.50" y2="512.6"/>
<line x1="138.50" y1="509" x2="138.50" y2="512.6"/>
<line x1="132.50" y1="509" x2="132.50" y2="512.6"/>
<line x1="126.50" y1="509" x2="126.50" y2="516.0"/>
<line x1="120.50" y1="509" x2="120.50" y2="512.6"/>
<line x1="113.50" y1="509" x2="113.50" y2="512.6"/>
<line x1="107.50" y1="509" x2="107.50" y2="512.6"/>
<line x1="101.50" y1="509" x2="101.50" y2="512.6"/>
<line x1="95.50" y1="509" x2="95.50" y2="516.0"/>
<line x1="89.50" y1="509" x2="89.50" y2="512.6"/>
<line x1="83.50" y1="509" x2="83.50" y2="512.6"/>
<line x1="77.50" y1="509" x2="77.50" y2="512.6"/>
<line x1="71.50" y1="509" x2="71.50" y2="512.6"/>
<line x1="65.50" y1="509" x2="65.50" y2="516.0"/>
<line x1="59.50" y1="509" x2="59.50" y2="512.6"/>
<line x1="53.50" y1="509" x2="53.50" y2="512.6"/>
</g>
<clipPath id="cbl"><rect x="4" y="290.5" width="46" height="227"/></clipPath>
<g font-family='"Liberation Sans", sans-serif' font-size="11" fill="#1e1e1e" stroke="#1e1e1e" stroke-width="0.25" text-anchor="middle">
<g clip-path="url(#cbl)">
<text x="39.2" y="503.90" transform="rotate(-90 39.2 503.90)">0</text>
<text x="39.2" y="480.74" transform="rotate(-90 39.2 480.74)">0.2</text>
<text x="39.2" y="457.58" transform="rotate(-90 39.2 457.58)">0.4</text>
<text x="39.2" y="434.42" transform="rotate(-90 39.2 434.42)">0.6</text>
<text x="39.2" y="411.26" transform="rotate(-90 39.2 411.26)">0.8</text>
<text x="39.2" y="388.10" transform="rotate(-90 39.2 388.10)">1.0</text>
<text x="39.2" y="364.94" transform="rotate(-90 39.2 364.94)">1.2</text>
<text x="39.2" y="341.78" transform="rotate(-90 39.2 341.78)">1.4</text>
<text x="39.2" y="318.62" transform="rotate(-90 39.2 318.62)">1.6</text>
<text x="39.2" y="295.46" transform="rotate(-90 39.2 295.46)">1.8</text>
</g>
<text x="672.22" y="525.6">-8.0</text>
<text x="641.88" y="525.6">-7.0</text>
<text x="611.54" y="525.6">-6.0</text>
<text x="581.20" y="525.6">-5.0</text>
<text x="550.86" y="525.6">-4.0</text>
<text x="520.52" y="525.6">-3.0</text>
<text x="490.18" y="525.6">-2.0</text>
<text x="459.84" y="525.6">-1.0</text>
<text x="429.50" y="525.6">0</text>
<text x="399.16" y="525.6">1.0</text>
<text x="368.82" y="525.6">2.0</text>
<text x="338.48" y="525.6">3.0</text>
<text x="308.14" y="525.6">4.0</text>
<text x="277.80" y="525.6">5.0</text>
<text x="247.46" y="525.6">6.0</text>
<text x="217.12" y="525.6">7.0</text>
<text x="186.78" y="525.6">8.0</text>
<text x="156.44" y="525.6">9.0</text>
<text x="126.10" y="525.6">10.0</text>
<text x="95.76" y="525.6">11.0</text>
<text x="65.42" y="525.6">12.0</text>
</g>
<clipPath id="cb"><rect x="51" y="292" width="636" height="216"/></clipPath>
<g clip-path="url(#cb)"><g filter="url(#soft)" fill="none" stroke-width="1" stroke-linejoin="round">
<path stroke="#0a7d0a" d="M50.50 503.90 L190.05 503.90 L190.50 503.79 L191.05 502.75 L191.70 503.88 L192.30 503.83 L192.85 502.97 L193.45 503.86 L194.65 503.89 L195.25 497.24 L195.50 482.24 L195.65 484.28 L195.70 483.29 L195.90 463.90 L196.20 499.58 L196.30 503.19 L196.40 503.83 L196.60 503.89 L196.90 496.60 L197.15 461.14 L197.40 483.69 L197.55 481.89 L197.80 496.78 L198.25 503.45 L198.45 503.89 L200.20 503.90 L200.45 503.35 L200.90 498.25 L201.10 490.48 L201.15 489.95 L201.25 491.12 L201.30 490.58 L201.50 476.32 L201.90 502.50 L202.30 464.49 L202.50 487.02 L202.90 498.12 L203.45 503.79 L205.15 503.87 L205.75 497.91 L206.15 479.15 L206.40 430.24 L206.65 470.61 L206.80 469.07 L206.85 471.63 L207.05 494.91 L207.65 503.85 L208.95 503.85 L209.55 502.98 L210.25 503.89 L215.45 503.89 L215.75 503.71 L216.20 502.74 L216.70 503.75 L217.00 503.89 L232.75 503.90 L233.00 503.74 L233.30 499.69 L233.55 498.81 L233.80 490.43 L234.10 446.68 L234.40 497.89 L234.65 503.86 L234.90 499.25 L235.20 448.94 L235.80 495.37 L236.35 503.87 L237.45 503.86 L238.05 502.97 L238.65 503.85 L240.40 503.88 L241.10 502.74 L241.80 503.88 L244.95 503.88 L245.65 502.97 L246.25 503.86 L248.20 503.89 L248.50 503.73 L249.00 502.75 L249.70 503.89 L257.85 503.90 L258.20 503.74 L258.70 502.74 L259.25 503.82 L260.25 503.88 L260.65 501.12 L260.90 502.11 L261.15 497.06 L261.40 500.45 L261.65 493.52 L261.85 496.59 L262.10 488.94 L262.30 496.44 L262.50 493.48 L262.75 500.34 L263.00 496.96 L263.25 502.00 L263.50 501.04 L263.80 503.72 L264.70 503.87 L265.10 500.92 L265.35 501.91 L265.60 496.69 L265.85 500.18 L266.10 493.08 L266.30 496.12 L266.50 488.34 L266.70 495.48 L266.95 493.14 L267.20 500.32 L267.45 496.82 L267.70 502.05 L267.95 501.03 L268.35 503.88 L269.35 503.84 L269.90 502.97 L270.55 503.87 L273.45 503.88 L274.15 502.74 L274.65 503.75 L275.00 503.90 L278.05 503.88 L278.70 502.97 L279.20 503.78 L279.50 503.90 L296.35 503.90 L296.75 503.68 L297.20 502.51 L297.90 503.87 L300.70 503.88 L301.15 498.14 L301.35 499.19 L301.65 477.27 L302.00 498.54 L302.35 396.27 L302.60 475.86 L302.85 446.76 L303.15 487.80 L303.30 487.20 L303.55 499.22 L303.75 498.14 L304.15 503.84 L304.85 503.80 L305.40 502.51 L305.90 503.72 L306.30 503.90 L307.25 503.85 L307.85 502.98 L308.30 503.75 L308.70 503.90 L350.95 503.90 L351.35 503.74 L351.85 502.75 L352.40 503.83 L353.75 503.89 L354.00 502.91 L354.25 498.12 L354.65 503.53 L355.00 486.55 L355.05 485.35 L355.25 488.58 L355.45 469.51 L355.70 488.95 L355.90 485.41 L356.30 503.56 L356.70 498.15 L357.15 503.88 L358.25 503.82 L358.80 502.74 L359.55 503.89 L363.30 503.87 L363.95 502.74 L364.50 503.80 L365.05 503.87 L365.50 498.73 L365.75 501.70 L366.00 492.59 L366.20 497.27 L366.30 495.63 L366.55 470.42 L366.75 485.05 L366.95 482.02 L367.15 490.69 L367.35 480.80 L367.65 500.50 L367.70 501.20 L367.95 498.92 L368.35 503.87 L369.75 503.85 L370.35 502.97 L370.80 503.75 L371.15 503.90 L392.55 503.90 L392.90 503.73 L393.40 502.51 L394.10 503.88 L395.50 503.86 L396.15 502.75 L396.75 503.86 L398.25 503.88 L398.90 497.26 L399.20 460.00 L399.50 488.70 L399.75 423.82 L399.95 440.34 L400.20 354.91 L400.50 488.27 L400.80 459.90 L401.10 497.76 L401.15 498.77 L401.30 498.18 L401.70 503.85 L404.00 503.86 L404.60 502.75 L405.10 503.73 L405.55 503.90 L505.35 503.90"/>
<path stroke="#8a5a12" d="M141.27 473.94 L281.07 473.94 L281.52 473.83 L282.07 472.79 L282.72 473.92 L283.32 473.87 L283.87 473.02 L284.47 473.90 L285.67 473.93 L286.27 467.28 L286.52 452.28 L286.67 454.32 L286.72 453.33 L286.92 433.94 L287.22 469.62 L287.32 473.24 L287.42 473.88 L287.62 473.93 L287.92 466.64 L288.17 431.18 L288.42 453.74 L288.57 451.93 L288.82 466.82 L289.27 473.49 L289.47 473.94 L291.22 473.94 L291.47 473.39 L291.92 468.29 L292.12 460.53 L292.17 460.00 L292.27 461.16 L292.32 460.62 L292.52 446.36 L292.92 472.54 L293.32 434.54 L293.52 457.07 L293.92 468.16 L294.47 473.83 L296.17 473.91 L296.77 467.95 L297.17 449.19 L297.42 400.28 L297.67 440.65 L297.82 439.11 L297.87 441.67 L298.07 464.95 L298.67 473.89 L299.97 473.89 L300.57 473.02 L301.27 473.93 L306.47 473.93 L306.77 473.75 L307.22 472.79 L307.72 473.79 L308.02 473.94 L323.77 473.94 L324.02 473.78 L324.32 469.73 L324.57 468.85 L324.82 460.47 L325.12 416.72 L325.42 467.93 L325.67 473.90 L325.92 469.29 L326.22 418.99 L326.82 465.41 L327.37 473.91 L328.47 473.90 L329.07 473.02 L329.67 473.90 L331.42 473.92 L332.12 472.79 L332.82 473.93 L335.97 473.93 L336.67 473.02 L337.27 473.90 L339.22 473.94 L339.52 473.77 L340.02 472.79 L340.72 473.93 L348.87 473.94 L349.22 473.79 L349.72 472.79 L350.27 473.86 L351.27 473.93 L351.67 471.17 L351.92 472.15 L352.17 467.10 L352.42 470.49 L352.67 463.56 L352.87 466.64 L353.12 458.98 L353.32 466.49 L353.52 463.52 L353.77 470.38 L354.02 467.00 L354.27 472.05 L354.52 471.09 L354.82 473.76 L355.72 473.91 L356.12 470.97 L356.37 471.95 L356.62 466.73 L356.87 470.22 L357.12 463.12 L357.32 466.16 L357.52 458.38 L357.72 465.53 L357.97 463.18 L358.22 470.36 L358.47 466.86 L358.72 472.09 L358.97 471.08 L359.37 473.93 L360.37 473.88 L360.92 473.02 L361.57 473.91 L364.47 473.93 L365.17 472.79 L365.67 473.79 L366.02 473.94 L369.07 473.92 L369.72 473.02 L370.22 473.82 L370.52 473.94 L387.37 473.94 L387.77 473.73 L388.22 472.56 L388.92 473.92 L391.72 473.92 L392.17 468.19 L392.37 469.23 L392.67 447.31 L393.02 468.58 L393.37 366.31 L393.62 445.91 L393.87 416.80 L394.17 457.84 L394.32 457.25 L394.57 469.26 L394.77 468.18 L395.17 473.88 L395.87 473.84 L396.42 472.55 L396.92 473.76 L397.32 473.94 L398.27 473.89 L398.87 473.02 L399.32 473.79 L399.72 473.94 L441.97 473.94 L442.37 473.78 L442.87 472.79 L443.42 473.87 L444.77 473.94 L445.02 472.96 L445.27 468.16 L445.67 473.58 L446.02 456.59 L446.07 455.40 L446.27 458.63 L446.47 439.56 L446.72 458.99 L446.92 455.45 L447.32 473.61 L447.72 468.19 L448.17 473.93 L449.27 473.86 L449.82 472.79 L450.57 473.93 L454.32 473.92 L454.97 472.79 L455.52 473.84 L456.07 473.91 L456.52 468.77 L456.77 471.74 L457.02 462.63 L457.22 467.31 L457.32 465.67 L457.57 440.46 L457.77 455.09 L457.97 452.07 L458.17 460.74 L458.37 450.84 L458.67 470.54 L458.72 471.24 L458.97 468.96 L459.37 473.91 L460.77 473.89 L461.37 473.02 L461.82 473.79 L462.17 473.94 L483.57 473.94 L483.92 473.77 L484.42 472.55 L485.12 473.92 L486.52 473.90 L487.17 472.79 L487.77 473.90 L489.27 473.92 L489.92 467.30 L490.22 430.05 L490.52 458.75 L490.77 393.86 L490.97 410.38 L491.22 324.96 L491.52 458.31 L491.82 429.94 L492.12 467.80 L492.17 468.81 L492.32 468.22 L492.72 473.89 L495.02 473.90 L495.62 472.79 L496.12 473.78 L496.57 473.94 L596.37 473.94"/>
<path stroke="#135a88" d="M232.29 444.56 L372.09 444.56 L372.54 444.46 L373.09 443.41 L373.74 444.54 L374.34 444.49 L374.89 443.64 L375.49 444.52 L376.69 444.55 L377.29 437.90 L377.54 422.90 L377.69 424.94 L377.74 423.95 L377.94 404.56 L378.24 440.25 L378.34 443.86 L378.44 444.50 L378.64 444.55 L378.94 437.26 L379.19 401.80 L379.44 424.36 L379.59 422.55 L379.84 437.44 L380.29 444.11 L380.49 444.56 L382.24 444.56 L382.49 444.01 L382.94 438.91 L383.14 431.15 L383.19 430.62 L383.29 431.78 L383.34 431.24 L383.54 416.99 L383.94 443.17 L384.34 405.16 L384.54 427.69 L384.94 438.78 L385.49 444.45 L387.19 444.53 L387.79 438.57 L388.19 419.82 L388.44 370.90 L388.69 411.28 L388.84 409.74 L388.89 412.29 L389.09 435.57 L389.69 444.52 L390.99 444.51 L391.59 443.64 L392.29 444.55 L397.49 444.56 L397.79 444.37 L398.24 443.41 L398.74 444.41 L399.04 444.56 L414.79 444.56 L415.04 444.40 L415.34 440.35 L415.59 439.47 L415.84 431.09 L416.14 387.35 L416.44 438.55 L416.69 444.53 L416.94 439.91 L417.24 389.61 L417.84 436.03 L418.39 444.53 L419.49 444.52 L420.09 443.64 L420.69 444.52 L422.44 444.54 L423.14 443.41 L423.84 444.55 L426.99 444.55 L427.69 443.64 L428.29 444.52 L430.24 444.56 L430.54 444.40 L431.04 443.41 L431.74 444.55 L439.89 444.56 L440.24 444.41 L440.74 443.41 L441.29 444.49 L442.29 444.55 L442.69 441.79 L442.94 442.77 L443.19 437.72 L443.44 441.11 L443.69 434.18 L443.89 437.26 L444.14 429.60 L444.34 437.11 L444.54 434.14 L444.79 441.01 L445.04 437.62 L445.29 442.67 L445.54 441.71 L445.84 444.38 L446.74 444.54 L447.14 441.59 L447.39 442.57 L447.64 437.35 L447.89 440.84 L448.14 433.75 L448.34 436.78 L448.54 429.00 L448.74 436.15 L448.99 433.81 L449.24 440.98 L449.49 437.49 L449.74 442.71 L449.99 441.70 L450.39 444.55 L451.39 444.50 L451.94 443.64 L452.59 444.53 L455.49 444.55 L456.19 443.41 L456.69 444.41 L457.04 444.56 L460.09 444.54 L460.74 443.64 L461.24 444.44 L461.54 444.56 L478.39 444.56 L478.79 444.35 L479.24 443.18 L479.94 444.54 L482.74 444.55 L483.19 438.81 L483.39 439.85 L483.69 417.94 L484.04 439.20 L484.39 336.93 L484.64 416.53 L484.89 387.42 L485.19 428.47 L485.34 427.87 L485.59 439.89 L485.79 438.80 L486.19 444.50 L486.89 444.47 L487.44 443.18 L487.94 444.38 L488.34 444.56 L489.29 444.51 L489.89 443.64 L490.34 444.41 L490.74 444.56 L532.99 444.56 L533.39 444.40 L533.89 443.41 L534.44 444.49 L535.79 444.56 L536.04 443.58 L536.29 438.78 L536.69 444.20 L537.04 427.21 L537.09 426.02 L537.29 429.25 L537.49 410.18 L537.74 429.61 L537.94 426.08 L538.34 444.23 L538.74 438.81 L539.19 444.55 L540.29 444.48 L540.84 443.41 L541.59 444.55 L545.34 444.54 L545.99 443.41 L546.54 444.46 L547.09 444.53 L547.54 439.39 L547.79 442.36 L548.04 433.25 L548.24 437.93 L548.34 436.29 L548.59 411.09 L548.79 425.71 L548.99 422.69 L549.19 431.36 L549.39 421.46 L549.69 441.16 L549.74 441.86 L549.99 439.58 L550.39 444.54 L551.79 444.51 L552.39 443.64 L552.84 444.41 L553.19 444.56 L574.59 444.56 L574.94 444.39 L575.44 443.17 L576.14 444.54 L577.54 444.52 L578.19 443.41 L578.79 444.52 L580.29 444.54 L580.94 437.92 L581.24 400.67 L581.54 429.37 L581.79 364.48 L581.99 381.00 L582.24 295.58 L582.54 428.93 L582.84 400.56 L583.14 438.42 L583.19 439.44 L583.34 438.84 L583.74 444.51 L586.04 444.52 L586.64 443.41 L587.14 444.40 L587.59 444.56 L686.99 444.56"/>
</g></g>
<line x1="50" y1="290.95" x2="688" y2="290.95" stroke="#72a4ec" stroke-width="1.35"/>
<line x1="50" y1="508.5" x2="688" y2="508.5" stroke="#72a4ec"/>
<line x1="50.5" y1="291" x2="50.5" y2="509" stroke="#72a4ec"/>
<line x1="687.5" y1="292" x2="687.5" y2="508" stroke="#c4d9fb"/>
<line x1="4.5" y1="289" x2="4.5" y2="554" stroke="#72a4ec"/>
<line x1="4" y1="553.5" x2="688" y2="553.5" stroke="#72a4ec"/>
<text x="17.3" y="505.7" transform="rotate(-90 17.3 505.7)" font-family='"Liberation Sans", sans-serif' font-size="11" fill="#1e1e1e" stroke="#1e1e1e" stroke-width="0.2">abundance</text>
<rect x="5" y="529" width="24" height="24" fill="#1a1a1a"/>
<rect x="6" y="530" width="22" height="5" fill="#159a15"/>
<rect x="6" y="536" width="22" height="11" fill="#dadada"/>
<rect x="6" y="546" width="22" height="1" fill="#ffffff"/>
<rect x="27" y="536" width="1" height="11" fill="#9a9a9a"/>
<rect x="6" y="548" width="22" height="4" fill="#a82222"/>
<text x="17" y="545.3" font-family='"Liberation Sans", sans-serif' font-size="10" fill="#111" text-anchor="middle">1</text>
<text x="52" y="547.3" font-family='"Liberation Sans", sans-serif' font-size="11.2" fill="#1e1e1e" stroke="#1e1e1e" stroke-width="0.25">X : parts per Million : Proton</text>
</g>
<rect x="5" y="5" width="683" height="1" fill="#e4e4e4"/>
<rect x="23" y="5" width="8" height="1.6" rx="0.8" fill="#3a0c0c"/>
<rect x="139" y="5" width="8" height="1.6" rx="0.8" fill="#24103a"/>
<rect x="255" y="5" width="8" height="1.6" rx="0.8" fill="#1c2a0c"/>
<rect x="120" y="5" width="1" height="3" fill="#8a8a8a"/><rect x="121" y="5" width="1" height="3" fill="#f4f4f4"/>
<rect x="236" y="5" width="1" height="3" fill="#8a8a8a"/><rect x="237" y="5" width="1" height="3" fill="#f4f4f4"/>
<rect x="5" y="289" width="683" height="1" fill="#e4e4e4"/>
<defs><filter id="sh" x="-30%" y="-40%" width="160%" height="180%"><feGaussianBlur stdDeviation="2.8"/></filter><linearGradient id="face" x1="0" y1="0" x2="0" y2="1"><stop offset="0" stop-color="#ececec"/><stop offset="1" stop-color="#cfcfcf"/></linearGradient></defs>
<rect x="211" y="263" width="80" height="38" fill="#000" opacity="0.42" filter="url(#sh)"/>
<rect x="209.5" y="257.5" width="81" height="39.5" fill="#000"/>
<polygon points="210.5,258.5 289.5,258.5 285,262.5 214.5,262.5 214.5,292.5 210.5,296" fill="#f4f4f4"/>
<polygon points="289.5,258.5 289.5,296 210.5,296 214.5,292.5 285,292.5 285,262.5" fill="#8f8f8f"/>
<polygon points="210.5,296 214.5,292.5 285,292.5 289.5,296" fill="#a6a6a6"/>
<rect x="214.5" y="262.5" width="71" height="30" fill="url(#face)" stroke="#000" stroke-width="1"/>
<g stroke="#000" stroke-width="1"><line x1="210" y1="258" x2="214.5" y2="262.5"/><line x1="290" y1="258" x2="285.5" y2="262.5"/><line x1="210" y1="296.5" x2="214.5" y2="292.5"/><line x1="290" y1="296.5" x2="285.5" y2="292.5"/></g>
<rect x="209.5" y="257.5" width="81" height="39.5" fill="none" stroke="#000" stroke-width="1.2"/>
<text x="249.8" y="284.6" font-family='"Liberation Sans", sans-serif' font-size="23.3" letter-spacing="0.5" fill="#000" opacity="0.99" text-anchor="middle">Home</text>
<polygon points="330.8,255 362.1,255 362.1,286 378.2,286 346.5,317.8 314.7,286 330.8,286" fill="#ff0000"/>
</svg>
</body></html>
